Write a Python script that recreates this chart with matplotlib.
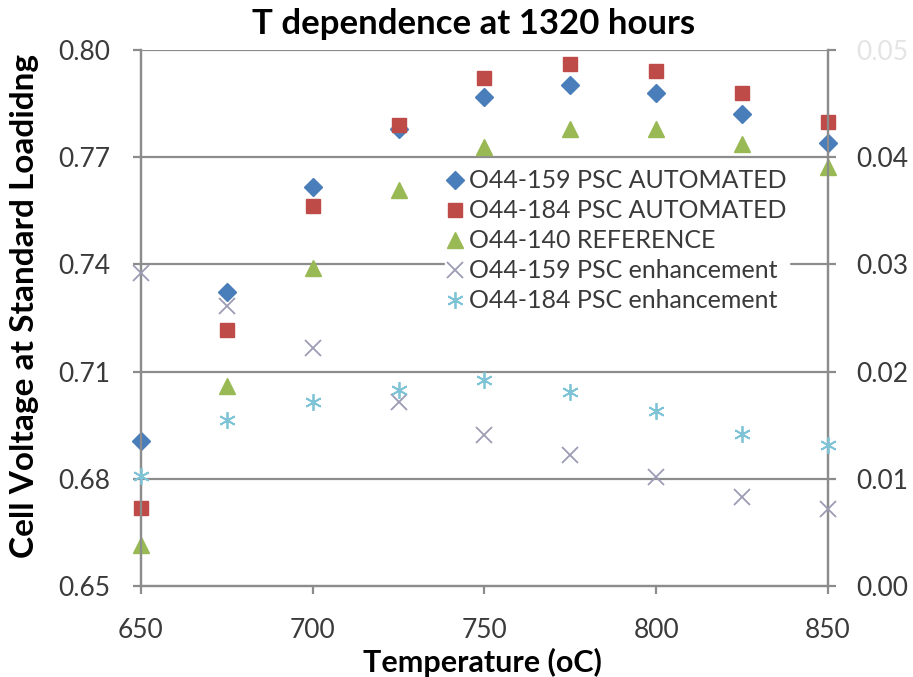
import matplotlib
matplotlib.use('Agg')
import matplotlib.pyplot as plt

plt.rcParams['font.family'] = ['Lato', 'DejaVu Sans']

# data
temps = [650, 675, 700, 725, 750, 775, 800, 825, 850]
v_159_auto = [0.6907, 0.7324, 0.7617, 0.7780, 0.7869, 0.7902, 0.7880, 0.7821, 0.7740]
v_184_auto = [0.6719, 0.7216, 0.7564, 0.7790, 0.7921, 0.7961, 0.7941, 0.7881, 0.7799]
v_140_ref = [0.6615, 0.7060, 0.7390, 0.7607, 0.7729, 0.7780, 0.7780, 0.7738, 0.7673]
enh_159 = [0.0292, 0.0261, 0.0222, 0.0172, 0.0141, 0.0122, 0.0102, 0.0083, 0.0072]
enh_184 = [0.0103, 0.0155, 0.0172, 0.0183, 0.0192, 0.0181, 0.0163, 0.0142, 0.0132]

left_ticks = [0.65, 0.68, 0.71, 0.74, 0.77, 0.80]
right_ticks = [0.00, 0.01, 0.02, 0.03, 0.04, 0.05]
x_ticks = [650, 700, 750, 800, 850]

grid_col = '#8c8c8c'
txt_col = '#3a3a3a'

fig = plt.figure(figsize=(9.13, 6.77), dpi=100)
ax = fig.add_axes([0.1544, 0.1344, 0.7525, 0.7917])
ax2 = ax.twinx()

ax.set_xlim(650, 850)
ax.set_ylim(0.65, 0.80)
ax2.set_ylim(0.00, 0.05)

for y in left_ticks[1:]:
    ax.axhline(y, color=grid_col, lw=1.6, zorder=0)

for a in (ax, ax2):
    a.spines['top'].set_visible(False)
    for s in ('left', 'right', 'bottom'):
        a.spines[s].set_color(grid_col)
        a.spines[s].set_linewidth(1.6)

l1, = ax.plot(temps, v_159_auto, 'D', color='#4a7ebb', ms=9, ls='none',
              label='O44-159 PSC AUTOMATED', zorder=3, clip_on=False)
l2, = ax.plot(temps, v_184_auto, 's', color='#be4b48', ms=10.5, ls='none',
              label='O44-184 PSC AUTOMATED', zorder=3, clip_on=False)
l3, = ax.plot(temps, v_140_ref, '^', color='#98b954', ms=11.5, ls='none',
              label='O44-140 REFERENCE', zorder=3, clip_on=False)
l4, = ax2.plot(temps, enh_159, 'x', color='#9c9cb4', ms=12, mew=1.3, ls='none',
               label='O44-159 PSC enhancement', zorder=3, clip_on=False)
l5, = ax2.plot(temps, enh_184, marker=(6, 2, 0), color='#7fc4d6', ms=12, mew=1.3,
               ls='none', label='O44-184 PSC enhancement', zorder=3, clip_on=False)

ax.set_xticks(x_ticks)
ax.set_yticks(left_ticks)
ax.set_yticklabels([f'{t:.2f}' for t in left_ticks])
ax2.set_yticks(right_ticks)
ax2.set_yticklabels([f'{t:.2f}' for t in right_ticks])

ax.tick_params(axis='x', direction='out', length=6, width=1.6, color=grid_col,
               labelsize=19, labelcolor=txt_col, pad=17)
ax.tick_params(axis='y', direction='out', length=6, width=1.6, color=grid_col,
               labelsize=19, labelcolor=txt_col, pad=16)
ax2.tick_params(axis='y', direction='out', length=6, width=1.6, color=grid_col,
                labelsize=19, labelcolor=txt_col, pad=14)
# top right label is cut off / faded in the original
ax2.get_yticklabels()[-1].set_color('#e4e4e4')

fig.text(474 / 913, 1 - 24 / 677, 'T dependence at 1320 hours', fontsize=25,
         fontweight='bold', ha='center', va='center')
fig.text(482 / 913, 1 - 662 / 677, 'Temperature (oC)', fontsize=22,
         fontweight='bold', ha='center', va='center')
fig.text(25 / 913, 1 - 306 / 677, 'Cell Voltage at Standard Loadidng', fontsize=24,
         fontweight='bold', ha='center', va='center', rotation=90)

leg = ax2.legend(handles=[l1, l2, l3, l4, l5], loc='upper left',
                 bbox_to_anchor=(0.4425, 0.782), frameon=True, fontsize=18,
                 handlelength=0.6, handletextpad=0.25, borderpad=0.1,
                 labelspacing=0.28, borderaxespad=0)
leg.get_frame().set_facecolor('white')
leg.get_frame().set_edgecolor('white')
leg.get_frame().set_alpha(1.0)
for t in leg.get_texts():
    t.set_color(txt_col)

fig.savefig('out.png', dpi=100, facecolor='white')
